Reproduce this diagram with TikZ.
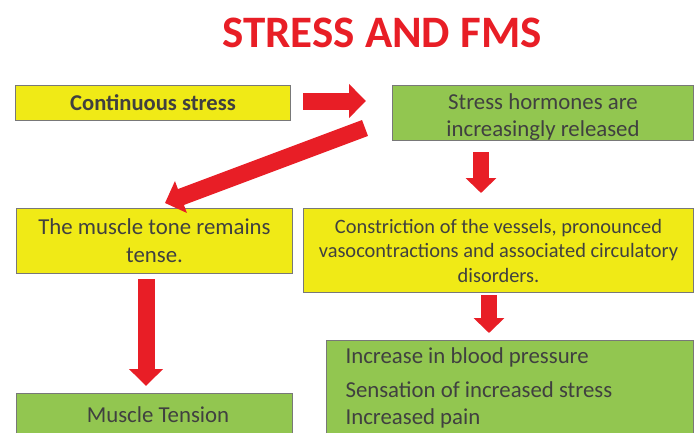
\documentclass[tikz,border=0pt]{standalone}
\usepackage{fontspec}
\setmainfont{Carlito}
\usetikzlibrary{arrows.meta}
\definecolor{boxyellow}{RGB}{240,234,22}
\definecolor{boxgreen}{RGB}{146,198,80}
\definecolor{arrred}{RGB}{232,30,38}
\definecolor{txtgray}{RGB}{64,64,64}
\definecolor{edgegray}{RGB}{120,120,120}
\begin{document}
\begin{tikzpicture}[x=1pt,y=1pt,
  box/.style={draw=edgegray, line width=1pt, inner sep=0pt, anchor=north west, text=txtgray, font=\fontsize{22.8}{27}\selectfont, align=center},
  ybox/.style={box, fill=boxyellow},
  gbox/.style={box, fill=boxgreen},
  ltext/.style={text=txtgray, font=\fontsize{22.8}{24}\selectfont},
  bigarrow/.style={arrred, line width=17pt, -{Triangle[width=33pt,length=17pt]}}
]
\useasboundingbox (0,0) rectangle (700,432);
\node[font=\bfseries\fontsize{45}{45}\selectfont, text=arrred] (title) at (382,399) {STRESS AND FMS};

\node[ybox, minimum width=275pt, minimum height=35pt, font=\bfseries\fontsize{22.6}{24}\selectfont] (cont) at (15,347) {Continuous stress};
\node[gbox, minimum width=301pt, minimum height=55pt] (horm) at (392,347) {};
\node[ltext, align=center, font=\fontsize{22.8}{27}\selectfont] (hormtxt) at ([yshift=-4pt]horm.center) {Stress hormones are\\increasingly released};
\node[ybox, minimum width=276pt, minimum height=65pt, font=\fontsize{22.8}{28}\selectfont] (tone) at (16,224) {The muscle tone remains\\tense.};
\node[ybox, minimum width=390pt, minimum height=84pt, font=\fontsize{20.4}{24.5}\selectfont] (constr) at (303,224) {Constriction of the vessels, pronounced\\vasocontractions and associated circulatory\\disorders.};
\node[gbox, minimum width=276pt, minimum height=45pt] (tension) at (16,39) {};
\node[ltext] (tensiontxt) at (158,17) {Muscle Tension};
\node[gbox, minimum width=367pt, minimum height=95pt] (incr) at (326,92) {};
\node[ltext, anchor=west] (l1) at (342,75) {Increase in blood pressure};
\node[ltext, anchor=west] (l2) at (342,42) {Sensation of increased stress};
\node[ltext, anchor=west] (l3) at (342,14) {Increased pain};

\coordinate (a1s) at (303,331);
\coordinate (a1e) at (366,331);
\draw[bigarrow] (a1s) -- (a1e);
\coordinate (a2s) at (365,304);
\coordinate (a2e) at (165,229);
\draw[bigarrow] (a2s) -- (a2e);
\coordinate (a3s) at (481,280);
\coordinate (a3e) at (481,239);
\draw[bigarrow, line width=16pt, -{Triangle[width=30pt,length=15pt]}] (a3s) -- (a3e);
\coordinate (a4s) at (489,137);
\coordinate (a4e) at (489,99);
\draw[bigarrow, line width=16pt, -{Triangle[width=30pt,length=15pt]}] (a4s) -- (a4e);
\coordinate (a5s) at (146,153);
\coordinate (a5e) at (146,46);
\draw[bigarrow] (a5s) -- (a5e);
\end{tikzpicture}
\end{document}
